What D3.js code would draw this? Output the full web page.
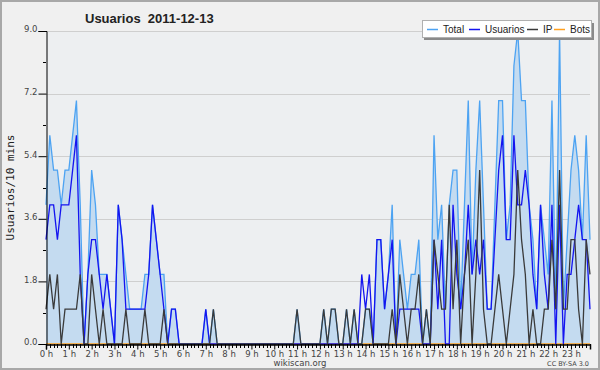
<!DOCTYPE html>
<html>
<head>
<meta charset="utf-8">
<script src="https://cdn.jsdelivr.net/npm/d3@7"></script>
<style>
  body { margin: 0; background: #f0f0f0; }
  svg { display: block; }
</style>
</head>
<body>
<div id="chart"></div>
<script>
// usuarios por tramo de 10 minutos, 2011-12-13 (144 tramos)
var usuarios = [
  3,4,4,3,4,4, 4,5,6,2,0,2, 3,3,2,1,2,1, 0,4,3,1,1,1,
  1,1,1,2,4,3, 2,1,0,1,1,0, 0,0,0,0,0,0, 1,0,0,0,0,0,
  0,0,0,0,0,0, 0,0,0,0,0,0, 0,0,0,0,0,0, 0,0,0,0,0,0,
  0,0,0,0,0,0, 0,0,0,0,0,2, 1,2,0,3,3,1, 2,3,0,1,1,1,
  1,1,1,0,0,0, 3,1,3,0,0,4, 2,1,2,4,2,3, 2,3,1,1,3,5,
  6,3,3,6,4,4, 5,4,2,1,4,2, 1,4,0,4,0,2, 2,3,4,3,3,1
];
var ip = [
  1,2,1,2,0,1, 1,1,1,2,0,0, 2,1,0,1,0,0, 0,0,0,1,0,0,
  0,0,1,0,0,0, 0,1,0,0,0,0, 0,0,0,0,0,0, 0,0,1,0,0,0,
  0,0,0,0,0,0, 0,0,0,0,0,0, 0,0,0,0,0,0, 1,0,0,0,0,0,
  0,1,0,1,1,0, 0,1,0,1,0,0, 1,1,0,0,0,0, 0,1,0,2,1,0,
  1,1,2,0,1,0, 3,2,1,1,4,1, 3,0,2,3,0,2, 5,1,0,0,1,2,
  1,0,1,2,5,3, 2,0,1,0,0,1, 1,3,1,5,1,1, 3,3,1,0,3,2
];
var total = [
  4,6,5,5,4,5, 5,6,7,4,0,2, 5,4,2,2,2,1, 0,4,3,2,1,1,
  1,1,2,2,4,3, 2,2,0,1,1,0, 0,0,0,0,0,0, 1,0,1,0,0,0,
  0,0,0,0,0,0, 0,0,0,0,0,0, 0,0,0,0,0,0, 1,0,0,0,0,0,
  0,1,0,1,1,0, 0,1,0,1,0,0, 1,1,0,3,3,1, 2,4,0,3,2,1,
  2,2,3,0,1,0, 6,3,4,1,4,5, 5,1,4,7,2,5, 7,4,1,1,4,7,
  7,3,4,8,9,7, 7,4,3,1,4,3, 2,7,1,9,1,3, 5,6,5,3,6,3
];
var bots = [
  0,0,0,0,0,0, 0,0,0,0,0,0, 0,0,0,0,0,0, 0,0,0,0,0,0,
  0,0,0,0,0,0, 0,0,0,0,0,0, 0,0,0,0,0,0, 0,0,0,0,0,0,
  0,0,0,0,0,0, 0,0,0,0,0,0, 0,0,0,0,0,0, 0,0,0,0,0,0,
  0,0,0,0,0,0, 0,0,0,0,0,0, 0,0,0,0,0,0, 0,0,0,0,0,0,
  0,0,0,0,0,0, 0,0,0,0,0,0, 0,0,0,0,0,0, 0,0,0,0,0,0,
  0,0,0,0,0,0, 0,0,0,0,0,0, 0,0,0,0,0,0, 0,0,0,0,0,0
];
var hourLabels = ["0 h","1 h","2 h","3 h","4 h","5 h","6 h","7 h","8 h","9 h","10 h","11 h",
                  "12 h","13 h","14 h","15 h","16 h","17 h","18 h","19 h","20 h","21 h","22 h","23 h"];
var yTicks = [0, 1.8, 3.6, 5.4, 7.2, 9.0];
var seriesNames = ["Total", "Usuarios", "IP", "Bots"];
var seriesColors = ["#4da3f2", "#1414f0", "#3a3a3a", "#ffa020"];

drawChart("chart", 600, 370);

function drawChart(container_id, width, height) {
	var left = 46, right = 590, top = 31, bottom = 344;

	var svg = d3.select("#" + container_id)
				.append("svg")
				.attr("width", width)
				.attr("height", height);

	svg.append("rect")
		.attr("x", 1).attr("y", 1)
		.attr("width", width - 2).attr("height", height - 2)
		.attr("fill", "#f0f0f0")
		.attr("stroke", "#a8a8a8")
		.attr("stroke-width", 2);

	var x = d3.scaleLinear().domain([0, total.length - 1]).range([left, right]);
	var y = d3.scaleLinear().domain([0, 9]).range([bottom, top]);

	// fondo del grafico
	svg.append("rect")
		.attr("x", left).attr("y", top)
		.attr("width", right - left).attr("height", bottom - top)
		.attr("fill", "#edeff1");

	// lineas de la rejilla
	svg.append("g")
		.selectAll("line")
		.data(yTicks.filter(function(d) { return d > 0; }))
		.enter()
		.append("line")
		.attr("x1", left).attr("x2", right)
		.attr("y1", function(d) { return Math.round(y(d)) + 0.5; })
		.attr("y2", function(d) { return Math.round(y(d)) + 0.5; })
		.attr("stroke", "#cfcfcf")
		.attr("stroke-width", 1);

	// area del total
	var area = d3.area()
				.x(function(d, i) { return x(i); })
				.y0(y(0))
				.y1(function(d) { return y(d); });
	svg.append("path")
		.datum(total)
		.attr("d", area)
		.attr("fill", "#c4dbf0");

	var line = d3.line()
				.x(function(d, i) { return x(i); })
				.y(function(d) { return y(d); });

	var series = [total, usuarios, ip, bots];
	var order = [3, 0, 1, 2];
	order.forEach(function(k) {
		svg.append("path")
			.datum(series[k])
			.attr("d", line)
			.attr("fill", "none")
			.attr("stroke", seriesColors[k])
			.attr("stroke-width", 1.3)
			.attr("stroke-linejoin", "miter");
	});

	// eje y
	var yAxis = d3.axisLeft(y)
				.tickValues(yTicks)
				.tickSize(8)
				.tickFormat(d3.format(".1f"));
	var gy = svg.append("g")
				.attr("transform", "translate(" + (left + 0.5) + ",0)")
				.call(yAxis);
	gy.select(".domain").attr("stroke", "#000");
	gy.selectAll(".tick line").attr("stroke", "#000");
	gy.selectAll("text")
		.attr("font-family", "DejaVu Sans")
		.attr("font-size", "8.5px")
		.attr("fill", "#444")
		.attr("x", -9)
		.attr("dy", "0.1em");
	svg.append("g")
		.selectAll("line")
		.data(d3.range(1, 10, 2).map(function(d) { return d * 0.9; }))
		.enter()
		.append("line")
		.attr("x1", left - 3).attr("x2", left)
		.attr("y1", function(d) { return Math.round(y(d)) + 0.5; })
		.attr("y2", function(d) { return Math.round(y(d)) + 0.5; })
		.attr("stroke", "#000");

	// eje x
	var xAxis = d3.axisBottom(x)
				.tickValues(d3.range(0, total.length, 6))
				.tickSize(5)
				.tickFormat(function(d) { return hourLabels[d / 6]; });
	var gx = svg.append("g")
				.attr("transform", "translate(0," + (bottom + 0.5) + ")")
				.call(xAxis);
	gx.select(".domain").attr("stroke", "#000").attr("stroke-width", 1.5);
	gx.selectAll(".tick line").attr("stroke", "#000");
	gx.selectAll("text")
		.attr("font-family", "DejaVu Sans")
		.attr("font-size", "8.5px")
		.attr("fill", "#444")
		.attr("y", 6);
	svg.append("g")
		.selectAll("line")
		.data(d3.range(0, total.length).filter(function(d) { return d % 6 != 0; }))
		.enter()
		.append("line")
		.attr("x1", function(d) { return Math.round(x(d)) + 0.5; })
		.attr("x2", function(d) { return Math.round(x(d)) + 0.5; })
		.attr("y1", bottom).attr("y2", bottom + 4)
		.attr("stroke", "#000");

	// titulos
	svg.append("text")
		.attr("x", 85).attr("y", 23)
		.attr("font-family", "Liberation Sans")
		.attr("font-weight", "bold")
		.attr("font-size", "13px")
		.attr("fill", "#222")
		.attr("xml:space", "preserve")
		.style("white-space", "pre")
		.text("Usuarios  2011-12-13");

	svg.append("text")
		.attr("transform", "translate(14," + ((top + bottom) / 2) + ") rotate(-90)")
		.attr("text-anchor", "middle")
		.attr("font-family", "DejaVu Sans Mono")
		.attr("font-size", "11px")
		.attr("fill", "#222")
		.text("Usuarios/10 mins");

	svg.append("text")
		.attr("x", 300).attr("y", 366)
		.attr("text-anchor", "middle")
		.attr("font-family", "DejaVu Sans")
		.attr("font-size", "8.5px")
		.attr("fill", "#444")
		.text("wikiscan.org");

	svg.append("text")
		.attr("x", 589).attr("y", 366)
		.attr("text-anchor", "end")
		.attr("font-family", "DejaVu Sans")
		.attr("font-size", "6.5px")
		.attr("fill", "#444")
		.text("CC BY-SA 3.0");

	// leyenda
	var legend = svg.append("g").attr("transform", "translate(422,20)");
	legend.append("rect")
		.attr("x", 2).attr("y", 3)
		.attr("width", 170).attr("height", 17)
		.attr("fill", "#8a8a8a");
	legend.append("rect")
		.attr("x", 0.5).attr("y", 0.5)
		.attr("width", 169).attr("height", 17)
		.attr("fill", "#fff")
		.attr("stroke", "#b0b0b0");
	var itemX = [5, 47, 105, 132];
	var items = legend.selectAll("g.item")
					.data(seriesNames)
					.enter()
					.append("g")
					.attr("class", "item")
					.attr("transform", function(d, i) { return "translate(" + itemX[i] + ",0)"; });
	items.append("line")
		.attr("x1", 0).attr("x2", 11)
		.attr("y1", 9.5).attr("y2", 9.5)
		.attr("stroke", function(d, i) { return seriesColors[i]; })
		.attr("stroke-width", 1.5);
	items.append("text")
		.attr("x", 16).attr("y", 13)
		.attr("font-family", "Liberation Sans")
		.attr("font-size", "10px")
		.attr("fill", "#222")
		.text(function(d) { return d; });
}
</script>
</body>
</html>
